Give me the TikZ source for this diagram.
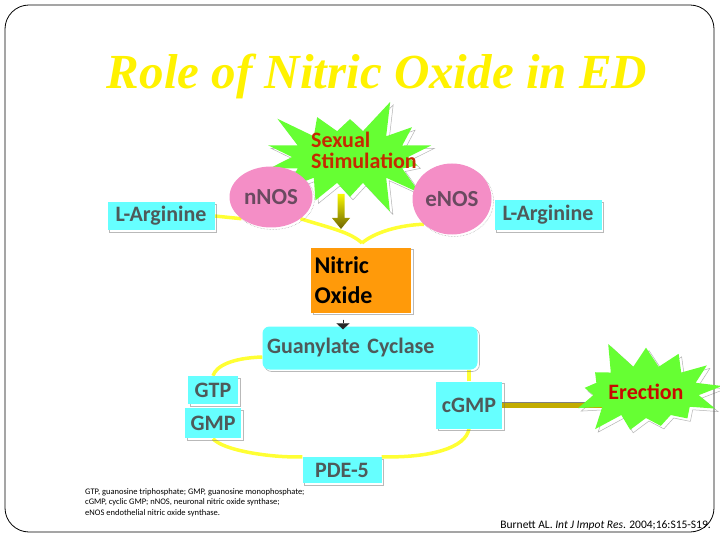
\documentclass[tikz,border=0pt]{standalone}
\usepackage{fontspec}
\setmainfont{Carlito}
\newfontfamily\titlefont{Liberation Serif}
\usetikzlibrary{arrows.meta,positioning,shapes.geometric,shapes.symbols,shadows,backgrounds}

\definecolor{lblcyan}{HTML}{66FFFF}
\definecolor{lblgrey}{HTML}{4E5A5A}
\definecolor{nospink}{HTML}{F48EC6}
\definecolor{nosgrey}{HTML}{6A4A60}
\definecolor{burstgreen}{HTML}{66FF33}
\definecolor{stimred}{HTML}{C42A00}
\definecolor{erectred}{HTML}{C80A00}
\definecolor{noorange}{HTML}{FF9A0A}
\definecolor{linkyellow}{HTML}{FFFF33}
\definecolor{linkgold}{HTML}{C2AC00}
\definecolor{stimtop}{HTML}{F8F800}
\definecolor{stimbottom}{HTML}{6E6400}

\begin{document}
\begin{tikzpicture}[x=1pt,y=-1pt,
lbl/.style={fill=lblcyan,text=lblgrey,font=\bfseries\fontsize{22}{26}\selectfont,inner sep=0pt,drop shadow={shadow xshift=2pt,shadow yshift=-2pt,fill=none,draw=black!55,line width=0.6pt}},
nos/.style={ellipse,fill=nospink,text=nosgrey,font=\bfseries\fontsize{23}{26}\selectfont,inner sep=0pt,drop shadow={shadow xshift=2pt,shadow yshift=-2pt,fill=none,draw=black!70,densely dotted,line width=0.5pt}},
burst/.style={starburst,fill=burstgreen,inner sep=0pt,drop shadow={shadow xshift=3pt,shadow yshift=-3pt,fill=none,draw=black!60,line width=0.5pt}},
ylink/.style={draw=linkyellow,line width=3.5pt}]
\useasboundingbox (0,0) rectangle (720,540);
\draw[rounded corners=24pt,line width=0.8pt] (5,5) rectangle (714,532);
\node[font=\titlefont\bfseries\itshape\fontsize{49}{52}\selectfont,text=yellow] (title) at (377,76) {Role of Nitric Oxide in ED};
\node[burst,minimum width=188pt,minimum height=125pt,starburst points=14,starburst point height=36pt,random starburst=3] (stim) at (350,157) {};
\node[text=stimred,font=\bfseries\fontsize{22}{21}\selectfont,align=left,inner sep=0pt] (stimtxt) at (364,150) {Sexual\\Stimulation};
\node[nos,minimum width=83pt,minimum height=61pt] (nnos) at (271,197) {nNOS};
\node[nos,minimum width=79pt,minimum height=71pt] (enos) at (452,199) {eNOS};
\node[lbl,minimum width=107pt,minimum height=28pt] (argl) at (161,216) {L-Arginine};
\node[lbl,minimum width=107pt,minimum height=30pt] (argr) at (548,215) {L-Arginine};
\coordinate (nojoin) at (362,243);
\coordinate (stimfoot) at (341,194);
\node[lbl,fill=noorange,text=black,font=\bfseries\fontsize{24}{30}\selectfont,minimum width=100pt,minimum height=65pt,text width=93pt,align=left] (no) at (361,280) {Nitric\\Oxide};
\node[lbl,rounded corners=7pt,minimum width=215pt,minimum height=43pt,text width=206pt,align=left] (gc) at (370,348) {Guanylate Cyclase};
\node[lbl,minimum width=50pt,minimum height=28pt] (gtp) at (213,390) {GTP};
\node[lbl,minimum width=56pt,minimum height=30pt,below=4pt of gtp] (gmp) {GMP};
\node[lbl,minimum width=66pt,minimum height=47pt] (cgmp) at (469,405) {cGMP};
\node[lbl,minimum width=79pt,minimum height=26pt] (pde) at (342,470) {PDE-5};
\node[burst,minimum width=118pt,minimum height=112pt,starburst points=13,starburst point height=30pt,random starburst=5,text=erectred,font=\bfseries\fontsize{22}{21}\selectfont] (erect) at (646,392) {Erection};
\node[anchor=north west,font=\fontsize{8.5}{10.5}\selectfont,align=left,inner sep=0pt] (notes) at (85,488) {GTP, guanosine triphosphate; GMP, guanosine monophosphate;\\cGMP, cyclic GMP; nNOS, neuronal nitric oxide synthase;\\eNOS endothelial nitric oxide synthase.};
\node[anchor=base east,font=\fontsize{11.5}{13}\selectfont,inner sep=0pt] (cite) at (711,528) {Burnett AL. \textit{Int J Impot Res}. 2004;16:S15-S19.};
\begin{scope}[on background layer]
\draw[ylink] (argl.east) -- (nnos.south west);
\draw[ylink] (nnos.south east) .. controls (330,228) and (350,232) .. (nojoin);
\draw[ylink] (enos.south west) .. controls (400,225) and (375,232) .. (nojoin);
\draw[ylink] ([yshift=-9pt]gc.west) .. controls (232,358) and (216,366) .. (gtp.north);
\draw[ylink] (gmp.south) .. controls (222,450) and (270,458) .. (pde.north west);
\draw[ylink] (pde.north east) .. controls (430,458) and (466,448) .. (cgmp.south);
\draw[ylink] (cgmp.north) -- (cgmp.north |- gc.south);
\draw[draw=black!50,double=linkgold,double distance=5pt,line width=0.6pt] (cgmp.east) -- (cgmp.east -| erect.center);
\end{scope}
\shade[top color=stimtop,bottom color=stimbottom] (stimfoot) ++(-3.5,0) -- ++(7,0) -- ++(0,24) -- ++(5.5,0) -- ++(-9,11) -- ++(-9,-11) -- ++(5.5,0) -- cycle;
\draw[-{Triangle[width=13pt,length=6pt]},line width=0.1pt,shorten <=7pt,draw=black!85,fill=black!85] ([xshift=-18pt]no.south) -- ([xshift=-18pt,yshift=-3pt]no.south |- gc.north);
\end{tikzpicture}
\end{document}
